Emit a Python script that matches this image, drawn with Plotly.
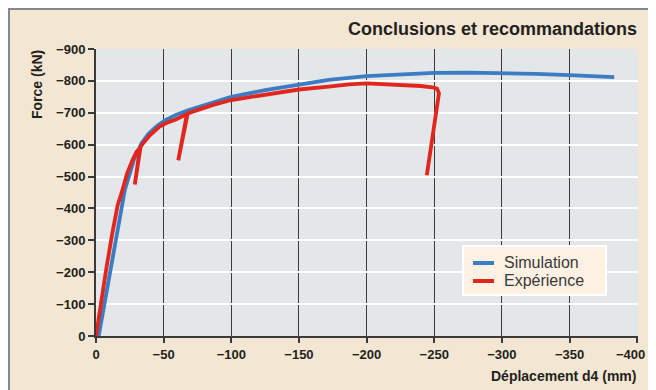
import plotly.graph_objects as go

# Simulation (blue)
sim_d = [-2, -21.3, -28, -33.6, -38.5, -44.6, -51, -59, -68, -76.5, -88, -100, -125, -150, -172,
         -200, -224, -250, -275, -300, -325, -350, -383]
sim_f = [0, -458, -552, -604, -633, -657, -676, -693, -708, -719, -735, -750, -771, -788, -803,
         -815, -821, -825, -826, -825, -822, -818, -812]

# Expérience (red)
exp_d = [0, -3.7, -7.8, -12, -16, -19.6, -23, -27, -30, -32.4, -28.7, -33, -34.8, -40, -47, -53,
         -59, -67.2, -60.8, -67.8, -76, -86, -100, -125, -150, -172, -187, -200, -224, -240, -248.5,
         -252, -253.5, -244.5]
exp_f = [0, -111, -216, -321, -410, -458, -510, -552, -578, -588, -475, -594, -604, -630, -657, -670,
         -679, -696, -551, -698, -710, -724, -740, -758, -773, -782, -789, -792, -788, -784, -780,
         -776, -761, -504]

series_names = ["Simulation", "Expérience"]
series_colors = ["#3b7cc2", "#e2261d"]

x_ticks = [0, -50, -100, -150, -200, -250, -300, -350, -400]
x_tick_labels = ["0", "\u221250", "\u2212100", "\u2212150", "\u2212200", "\u2212250",
                 "\u2212300", "\u2212350", "\u2212400"]
y_ticks = [0, -100, -200, -300, -400, -500, -600, -700, -800, -900]

BEIGE = "#f3e6d2"
TXT = "#231f20"
FONT = "Liberation Sans, Arial, sans-serif"

fig = go.Figure()
fig.add_trace(go.Scatter(x=sim_d, y=sim_f, mode="lines", name=series_names[0],
                         line=dict(color=series_colors[0], width=3.8)))
fig.add_trace(go.Scatter(x=exp_d, y=exp_f, mode="lines", name=series_names[1],
                         line=dict(color=series_colors[1], width=3.8)))

# the page body has an 8px margin, so the figure sits 8px in from the window corner
OFF = 8
W, H = 656 - 2 * OFF, 390 - OFF
L, T = 96 - OFF, 49 - OFF
pw, ph = 542, 287
R = W - L - pw
B = H - T - ph

def px(x):  # window pixel -> paper x
    return (x - 96) / pw

def py(y):  # window pixel -> paper y
    return (336 - y) / ph

shapes = [
    dict(type="rect", xref="paper", yref="paper", x0=px(0), x1=px(700), y0=py(10), y1=py(0),
         fillcolor="#7f8b92", line=dict(width=0)),
    dict(type="rect", xref="paper", yref="paper", x0=px(0), x1=px(10), y0=py(400), y1=py(0),
         fillcolor="#7f8b92", line=dict(width=0)),
    # legend box
    dict(type="rect", xref="paper", yref="paper", x0=px(463), x1=px(606), y0=py(295), y1=py(246),
         fillcolor="#fdf1e3", line=dict(color="white", width=2), layer="above"),
]
annotations = [
    dict(text="<b>Conclusions et recommandations</b>", xref="paper", yref="paper",
         x=px(639), y=py(29), xanchor="right", yanchor="middle", showarrow=False,
         font=dict(family=FONT, size=18, color=TXT)),
    dict(text="<b>Déplacement d4 (mm)</b>", xref="paper", yref="paper",
         x=px(638), y=py(376), xanchor="right", yanchor="middle", showarrow=False,
         font=dict(family=FONT, size=14, color=TXT)),
    dict(text="<b>Force (kN)</b>", xref="paper", yref="paper", textangle=-90,
         x=px(37), y=py(85), xanchor="center", yanchor="middle", showarrow=False,
         font=dict(family=FONT, size=14, color=TXT)),
    # last x tick label, kept inside the figure edge
    dict(text="<b>" + x_tick_labels[-1] + "</b>", xref="paper", yref="paper",
         x=px(647), y=py(355), xanchor="right", yanchor="middle", showarrow=False,
         font=dict(family=FONT, size=13, color=TXT)),
]
for i, (nm, col) in enumerate(zip(series_names, series_colors)):
    yy = 263 + 18 * i
    shapes.append(dict(type="line", xref="paper", yref="paper", x0=px(473), x1=px(494),
                       y0=py(yy), y1=py(yy), line=dict(color=col, width=4), layer="above"))
    annotations.append(dict(text=nm, xref="paper", yref="paper", x=px(502), y=py(yy - 0.5),
                            xanchor="left", yanchor="middle", showarrow=False,
                            font=dict(family=FONT, size=16, color="#3a3a3a")))

fig.update_layout(
    width=W, height=H,
    margin=dict(l=L, r=R, t=T, b=B, pad=0),
    paper_bgcolor=BEIGE,
    plot_bgcolor="#e3e7e9",
    font=dict(family=FONT, color=TXT),
    shapes=shapes,
    annotations=annotations,
    showlegend=False,
    xaxis=dict(range=[0, -400.6], tickvals=x_ticks, ticktext=x_tick_labels[:-1] + [""],
               showgrid=True, gridcolor="#3a3a3a",
               gridwidth=1.2, zeroline=False, showline=True, linecolor="#3a3a3a", linewidth=2,
               ticks="outside", ticklen=5, tickcolor="#3a3a3a", tickwidth=1.5,
               tickfont=dict(family=FONT, size=13, color=TXT, weight="bold"), fixedrange=True),
    yaxis=dict(range=[0, -900], tickvals=y_ticks, showgrid=True, gridcolor="white",
               gridwidth=2, zeroline=False, showline=True, linecolor="#3a3a3a", linewidth=2,
               ticks="outside", ticklen=6, tickcolor="#3a3a3a", tickwidth=1.5,
               tickfont=dict(family=FONT, size=13, color=TXT, weight="bold"), fixedrange=True),
)

fig.write_html("out.html")
